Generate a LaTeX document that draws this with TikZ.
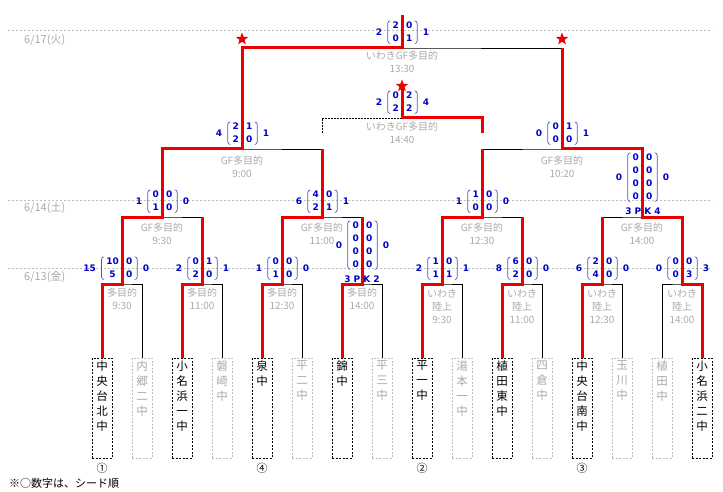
\documentclass[tikz,border=0pt]{standalone}
\usepackage{fontspec}
\newfontfamily\jp{Noto Sans CJK JP}
\newfontfamily\scorefont{DejaVu Sans}
\usetikzlibrary{shapes.geometric}

\definecolor{winred}{RGB}{235,0,0}
\definecolor{scoreblue}{RGB}{0,0,200}
\definecolor{parenblue}{RGB}{80,80,200}
\definecolor{palegray}{RGB}{170,170,170}
\definecolor{dategray}{RGB}{190,190,190}

\tikzset{
  win/.style={winred, line width=3pt},
  lose/.style={black, line width=0.8pt},
  dateline/.style={dategray, line width=0.6pt, dash pattern=on 2pt off 2pt},
  datelbl/.style={palegray, font=\jp\fontsize{11}{13}\selectfont, anchor=west, inner sep=0pt},
  venue/.style={palegray, font=\jp\fontsize{10}{13}\selectfont, align=center, inner sep=0pt},
  winbox/.style={draw=black, line width=0.8pt, dash pattern=on 2pt off 1.5pt, minimum width=20pt, minimum height=100pt, inner sep=0pt},
  losebox/.style={draw=dategray, line width=0.8pt, dash pattern=on 2pt off 1.5pt, minimum width=20pt, minimum height=100pt, inner sep=0pt},
  tname/.style={anchor=north, yshift=-3pt, inner sep=0pt, align=center, font=\jp\fontsize{11.5}{15}\selectfont},
  lname/.style={tname, palegray},
  scol/.style={scoreblue, font=\scorefont\bfseries\fontsize{9}{13}\selectfont, align=center, inner sep=0pt},
  snum/.style={scoreblue, font=\scorefont\bfseries\fontsize{9}{13}\selectfont, inner sep=0pt},
  paren/.style={parenblue, line width=0.7pt, rounded corners=2.5pt},
  starmark/.style={star, star points=5, star point ratio=2.4, fill=winred, minimum size=13pt, inner sep=0pt},
  seed/.style={font=\jp\fontsize{11}{13}\selectfont, inner sep=0pt},
}

% score of one match: centre, name, left sum, left column, right column, right sum, lift
\newcommand{\matchscore}[7]{%
  \node[scol, anchor=south east] (#2l) at ([shift={(-3,-#7)}]#1) {#4};
  \node[scol, anchor=south west] (#2r) at ([shift={(4,-#7)}]#1) {#5};
  \draw[paren] ([shift={(-2,-1)}]#2l.north west) -| ([shift={(-4.5,1.5)}]#2l.south west) -- ([shift={(-2,1.5)}]#2l.south west);
  \draw[paren] ([shift={(2,-1)}]#2r.north east) -| ([shift={(4.5,1.5)}]#2r.south east) -- ([shift={(2,1.5)}]#2r.south east);
  \node[snum, anchor=east] at ([xshift=-10pt]#2l.west) {#3};
  \node[snum, anchor=west] at ([xshift=10pt]#2r.east) {#6};
}

\begin{document}
\begin{tikzpicture}[x=1pt, y=-1pt]
  \useasboundingbox (0,0) rectangle (723,492);

  % Fechas
  \draw[dateline] (8,30) -- (712,30);
  \draw[dateline] (8,200) -- (712,200);
  \draw[dateline] (8,268) -- (712,268);
  \node[datelbl] (d1) at (24,40) {6/17(火)};
  \node[datelbl] (d2) at (24,208) {6/14(土)};
  \node[datelbl] (d3) at (24,277) {6/13(金)};

  % Puntos del cuadro
  \coordinate (t1) at (102,358);  \coordinate (t2) at (142,358);
  \coordinate (t3) at (182,358);  \coordinate (t4) at (222,358);
  \coordinate (t5) at (262,358);  \coordinate (t6) at (302,358);
  \coordinate (t7) at (342,358);  \coordinate (t8) at (382,358);
  \coordinate (t9) at (422,358);  \coordinate (t10) at (462,358);
  \coordinate (t11) at (502,358); \coordinate (t12) at (542,358);
  \coordinate (t13) at (582,358); \coordinate (t14) at (622,358);
  \coordinate (t15) at (662,358); \coordinate (t16) at (702,358);
  \coordinate (m1) at (122,284); \coordinate (m2) at (202,284);
  \coordinate (m3) at (282,284); \coordinate (m4) at (362,284);
  \coordinate (m5) at (442,284); \coordinate (m6) at (522,284);
  \coordinate (m7) at (602,284); \coordinate (m8) at (682,284);
  \coordinate (q1) at (162,217); \coordinate (q2) at (322,217);
  \coordinate (q3) at (482,217); \coordinate (q4) at (642,217);
  \coordinate (s1) at (242,149); \coordinate (s2) at (562,149);
  \coordinate (f) at (402,48);   \coordinate (ftop) at (402,15);
  \coordinate (th) at (402,118); \coordinate (thtop) at (402,88);
  \coordinate (thl) at (322,133); \coordinate (thr) at (482,133);

  % Cuadro (negro)
  \draw[lose] (t1) |- (m1) -| (t2);
  \draw[lose] (t3) |- (m2) -| (t4);
  \draw[lose] (t5) |- (m3) -| (t6);
  \draw[lose] (t7) |- (m4) -| (t8);
  \draw[lose] (t9) |- (m5) -| (t10);
  \draw[lose] (t11) |- (m6) -| (t12);
  \draw[lose] (t13) |- (m7) -| (t14);
  \draw[lose] (t15) |- (m8) -| (t16);
  \draw[lose] (m1) |- (q1) -| (m2);
  \draw[lose] (m3) |- (q2) -| (m4);
  \draw[lose] (m5) |- (q3) -| (m6);
  \draw[lose] (m7) |- (q4) -| (m8);
  \draw[lose] (q1) |- (s1) -| (q2);
  \draw[lose] (q3) |- (s2) -| (q4);
  \draw[lose] (s1) |- (f) -| (s2);
  \draw[lose, dash pattern=on 1.5pt off 1.5pt] (thl) |- (th);

  % Ganadores (rojo)
  \draw[win] (t1) |- (m1) |- (q1) |- (s1) |- (f) -- (ftop);
  \draw[win] (t3) |- (m2) -- (m2 |- q1);
  \draw[win] (t5) |- (m3) |- (q2) -- (q2 |- s1);
  \draw[win] (t7) |- (m4) -- (m4 |- q2);
  \draw[win] (t9) |- (m5) |- (q3) -- (q3 |- s2);
  \draw[win] (t11) |- (m6) -- (m6 |- q3);
  \draw[win] (t13) |- (m7) -- (m7 |- q4);
  \draw[win] (t16) |- (m8) |- (q4) |- (s2) -- (s2 |- f);
  \draw[win] (thr) |- (th) -- (thtop);

  % Estrellas
  \node[starmark] (st1) at (242,39) {};
  \node[starmark] (st2) at (562,39) {};
  \node[starmark] (st3) at (402,86) {};

  % Sedes
  \node[venue] (v1) at (122,299) {多目的\\9:30};
  \node[venue] (v2) at (202,299) {多目的\\11:00};
  \node[venue] (v3) at (282,299) {多目的\\12:30};
  \node[venue] (v4) at (362,299) {多目的\\14:00};
  \node[venue] (v5) at (442,307) {いわき\\陸上\\9:30};
  \node[venue] (v6) at (522,307) {いわき\\陸上\\11:00};
  \node[venue] (v7) at (602,307) {いわき\\陸上\\12:30};
  \node[venue] (v8) at (682,307) {いわき\\陸上\\14:00};
  \node[venue] (v9) at (162,234) {GF多目的\\9:30};
  \node[venue] (v10) at (322,234) {GF多目的\\11:00};
  \node[venue] (v11) at (482,234) {GF多目的\\12:30};
  \node[venue] (v12) at (642,234) {GF多目的\\14:00};
  \node[venue] (v13) at (242,167) {GF多目的\\9:00};
  \node[venue] (v14) at (562,167) {GF多目的\\10:20};
  \node[venue] (v15) at (402,62) {いわきGF多目的\\13:30};
  \node[venue] (v16) at (402,133) {いわきGF多目的\\14:40};

  % Marcadores
  \matchscore{m1}{sa}{15}{10\\5}{0\\0}{0}{6}
  \matchscore{m2}{sb}{2}{0\\2}{1\\0}{1}{6}
  \matchscore{m3}{sc}{1}{0\\1}{0\\0}{0}{6}
  \matchscore{m4}{sd}{0}{0\\0\\0\\0}{0\\0\\0\\0}{0}{16}
  \matchscore{m5}{se}{2}{1\\1}{0\\1}{1}{6}
  \matchscore{m6}{sf}{8}{6\\2}{0\\0}{0}{6}
  \matchscore{m7}{sg}{6}{2\\4}{0\\0}{0}{6}
  \matchscore{m8}{sh}{0}{0\\0}{0\\3}{3}{6}
  \matchscore{q1}{si}{1}{0\\1}{0\\0}{0}{6}
  \matchscore{q2}{sj}{6}{4\\2}{0\\1}{1}{6}
  \matchscore{q3}{sk}{1}{1\\0}{0\\0}{0}{6}
  \matchscore{q4}{sl}{0}{0\\0\\0\\0}{0\\0\\0\\0}{0}{17}
  \matchscore{s1}{sm}{4}{2\\2}{1\\0}{1}{6}
  \matchscore{s2}{sn}{0}{0\\0}{1\\0}{1}{6}
  \matchscore{f}{so}{2}{2\\0}{0\\1}{1}{6}
  \matchscore{th}{sp}{2}{0\\2}{2\\2}{4}{6}
  \node[snum] (pk1) at (362,279) {3 P K 2};
  \node[snum] (pk2) at (643,211) {3 P K 4};

  % Equipos
  \node[winbox, label={[tname]north:{中\\央\\台\\北\\中}}] (n1) at (102,408) {};
  \node[losebox, label={[lname]north:{内\\郷\\二\\中}}] (n2) at (142,408) {};
  \node[winbox, label={[tname]north:{小\\名\\浜\\一\\中}}] (n3) at (182,408) {};
  \node[losebox, label={[lname]north:{磐\\崎\\中}}] (n4) at (222,408) {};
  \node[winbox, label={[tname]north:{泉\\中}}] (n5) at (262,408) {};
  \node[losebox, label={[lname]north:{平\\二\\中}}] (n6) at (302,408) {};
  \node[winbox, label={[tname]north:{錦\\中}}] (n7) at (342,408) {};
  \node[losebox, label={[lname]north:{平\\三\\中}}] (n8) at (382,408) {};
  \node[winbox, label={[tname]north:{平\\一\\中}}] (n9) at (422,408) {};
  \node[losebox, label={[lname]north:{湯\\本\\一\\中}}] (n10) at (462,408) {};
  \node[winbox, label={[tname]north:{植\\田\\東\\中}}] (n11) at (502,408) {};
  \node[losebox, label={[lname]north:{四\\倉\\中}}] (n12) at (542,408) {};
  \node[winbox, label={[tname]north:{中\\央\\台\\南\\中}}] (n13) at (582,408) {};
  \node[losebox, label={[lname]north:{玉\\川\\中}}] (n14) at (622,408) {};
  \node[losebox, label={[lname]north:{植\\田\\中}}] (n15) at (662,408) {};
  \node[winbox, label={[tname]north:{小\\名\\浜\\二\\中}}] (n16) at (702,408) {};

  % Semillas
  \node[seed] (c1) at (102,468) {①};
  \node[seed] (c4) at (262,468) {④};
  \node[seed] (c2) at (422,468) {②};
  \node[seed] (c3) at (582,468) {③};
  \node[seed, anchor=west] (note) at (9,483) {※○数字は、シード順};
\end{tikzpicture}
\end{document}
